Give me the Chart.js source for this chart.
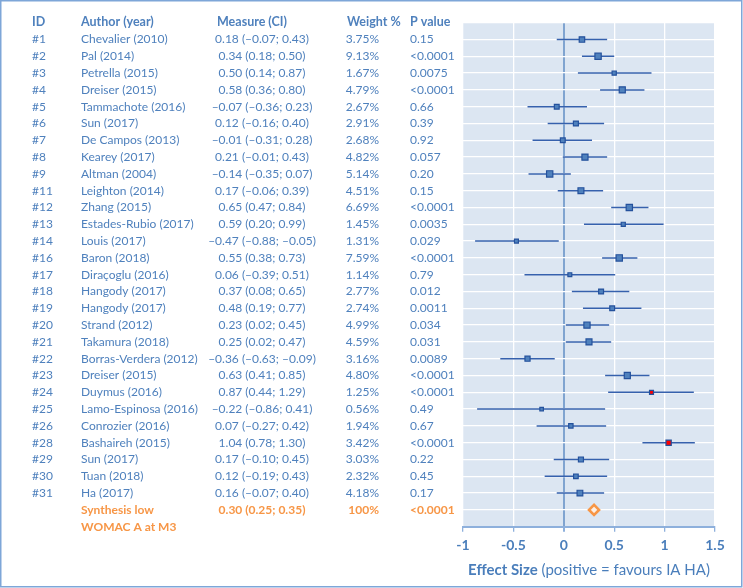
<!DOCTYPE html>
<html>
<head>
<meta charset="utf-8">
<script src="https://cdn.jsdelivr.net/npm/chart.js@4.4.0/dist/chart.umd.min.js"></script>
<style>
  body { margin: 0; background: #fff; }
  #wrap { width: 743px; height: 588px; }
</style>
</head>
<body>
<div id="wrap"><canvas id="forest" width="743" height="588"></canvas></div>
<script>
// study table
const ids = ['#1','#2','#3','#4','#5','#6','#7','#8','#9','#11','#12','#13','#14','#16',
  '#17','#18','#19','#20','#21','#22','#23','#24','#25','#26','#28','#29','#30','#31'];
const authors = ['Chevalier (2010)','Pal (2014)','Petrella (2015)','Dreiser (2015)','Tammachote (2016)',
  'Sun (2017)','De Campos (2013)','Kearey (2017)','Altman (2004)','Leighton (2014)','Zhang (2015)',
  'Estades-Rubio (2017)','Louis (2017)','Baron (2018)','Diraçoglu (2016)','Hangody (2017)',
  'Hangody (2017)','Strand (2012)','Takamura (2018)','Borras-Verdera (2012)','Dreiser (2015)',
  'Duymus (2016)','Lamo-Espinosa (2016)','Conrozier (2016)','Bashaireh (2015)','Sun (2017)',
  'Tuan (2018)','Ha (2017)'];
const effect = [0.18,0.34,0.50,0.58,-0.07,0.12,-0.01,0.21,-0.14,0.17,0.65,0.59,-0.47,0.55,
  0.06,0.37,0.48,0.23,0.25,-0.36,0.63,0.87,-0.22,0.07,1.04,0.17,0.12,0.16];
const ciLow = [-0.07,0.18,0.14,0.36,-0.36,-0.16,-0.31,-0.01,-0.35,-0.06,0.47,0.20,-0.88,0.38,
  -0.39,0.08,0.19,0.02,0.02,-0.63,0.41,0.44,-0.86,-0.27,0.78,-0.10,-0.19,-0.07];
const ciHigh = [0.43,0.50,0.87,0.80,0.23,0.40,0.28,0.43,0.07,0.39,0.84,0.99,-0.05,0.73,
  0.51,0.65,0.77,0.45,0.47,-0.09,0.85,1.29,0.41,0.42,1.30,0.45,0.43,0.40];
const weights = [3.75,9.13,1.67,4.79,2.67,2.91,2.68,4.82,5.14,4.51,6.69,1.45,1.31,7.59,
  1.14,2.77,2.74,4.99,4.59,3.16,4.80,1.25,0.56,1.94,3.42,3.03,2.32,4.18];
const pValues = ['0.15','<0.0001','0.0075','<0.0001','0.66','0.39','0.92','0.057','0.20','0.15',
  '<0.0001','0.0035','0.029','<0.0001','0.79','0.012','0.0011','0.034','0.031','0.0089',
  '<0.0001','<0.0001','0.49','0.67','<0.0001','0.22','0.45','0.17'];
const flagged = ['#24','#28'];

// pooled result
const synthEffect = 0.30;
const synthLow = 0.25;
const synthHigh = 0.35;
const synthWeight = '100%';
const synthP = '<0.0001';
const synthLabel = ['Synthesis low', 'WOMAC A at M3'];

const xTicks = [-1, -0.5, 0, 0.5, 1, 1.5];
const headers = ['ID', 'Author (year)', 'Measure (CI)', 'Weight %', 'P value'];

const BLUE_TXT = '#4f81bd';
const ORANGE = '#f79646';
const FONT = 'Lato, "Open Sans", sans-serif';

function fmt(v) {
  return (v < 0 ? '\u2013' : '') + Math.abs(v).toFixed(2);
}

// one row per study, synthesis after them
const markerData = effect.map((v, i) => ({ x: v, y: i + 1 }));
const synthRow = ids.length + 1;

const barData = [];
ciLow.forEach((lo, i) => {
  barData.push({ x: lo, y: i + 1 }, { x: ciHigh[i], y: i + 1 }, { x: lo, y: null });
});

function squareRadius(w) {
  const side = Math.min(4.2 + 0.6 * w, 7.3);
  return (side - 1) / Math.SQRT2;
}

const tablePlugin = {
  id: 'table',
  beforeDraw(chart) {
    const { ctx, chartArea: a } = chart;
    ctx.save();
    ctx.fillStyle = '#dce6f2';
    ctx.fillRect(a.left, a.top, a.right - a.left, a.bottom - a.top);
    ctx.restore();
  },
  afterDraw(chart) {
    const { ctx, chartArea: a } = chart;
    const y = chart.scales.y;
    ctx.save();
    ctx.textBaseline = 'middle';

    // header
    ctx.fillStyle = BLUE_TXT;
    ctx.font = 'bold 12.5px ' + FONT;
    const hy = y.getPixelForValue(0) - 1;
    ctx.textAlign = 'left';
    ctx.fillText(headers[0], 32, hy);
    ctx.fillText(headers[1], 81, hy);
    ctx.fillText(headers[2], 217, hy);
    ctx.fillText(headers[3], 347, hy);
    ctx.fillText(headers[4], 410, hy);

    // studies
    ctx.font = '12px ' + FONT;
    ids.forEach((id, i) => {
      const ry = y.getPixelForValue(i + 1);
      ctx.textAlign = 'left';
      ctx.fillText(id, 32, ry);
      ctx.fillText(authors[i], 81, ry);
      ctx.fillText(pValues[i], 410, ry);
      ctx.textAlign = 'center';
      ctx.fillText(fmt(effect[i]) + ' (' + fmt(ciLow[i]) + '; ' + fmt(ciHigh[i]) + ')', 262, ry);
      ctx.textAlign = 'right';
      ctx.fillText(weights[i].toFixed(2) + '%', 379, ry);
    });

    // synthesis
    ctx.fillStyle = ORANGE;
    ctx.font = 'bold 12px ' + FONT;
    const sy = y.getPixelForValue(synthRow);
    ctx.textAlign = 'left';
    ctx.fillText(synthLabel[0], 81, sy);
    ctx.fillText(synthLabel[1], 81, y.getPixelForValue(synthRow + 1));
    ctx.fillText(synthP, 410, sy);
    ctx.textAlign = 'center';
    ctx.fillText(fmt(synthEffect) + ' (' + fmt(synthLow) + '; ' + fmt(synthHigh) + ')', 262, sy);
    ctx.textAlign = 'right';
    ctx.fillText(synthWeight, 379, sy);

    // axis title, bold part + normal part
    const t1 = 'Effect Size';
    const t2 = ' (positive = favours IA HA)';
    ctx.fillStyle = '#4a7ebb';
    ctx.font = 'bold 15px ' + FONT;
    const w1 = ctx.measureText(t1).width;
    ctx.font = '15px ' + FONT;
    const w2 = ctx.measureText(t2).width;
    let tx = (a.left + a.right) / 2 - (w1 + w2) / 2;
    ctx.textAlign = 'left';
    ctx.font = 'bold 15px ' + FONT;
    ctx.fillText(t1, tx, 570);
    ctx.font = '15px ' + FONT;
    ctx.fillText(t2, tx + w1, 570);

    // frame
    ctx.strokeStyle = '#7ea6d8';
    ctx.lineWidth = 1.5;
    ctx.strokeRect(0.75, 0.75, 741, 586);
    ctx.restore();
  }
};

new Chart(document.getElementById('forest'), {
  type: 'scatter',
  data: {
    datasets: [
      {
        label: 'studies',
        data: markerData,
        pointStyle: 'rect',
        pointRadius: ctx => squareRadius(weights[ctx.dataIndex]),
        backgroundColor: ctx => flagged.includes(ids[ctx.dataIndex]) ? '#ff0000' : '#4f81bd',
        borderColor: '#24519c',
        borderWidth: 1.2,
        order: 1
      },
      {
        label: 'synthesis',
        data: [{ x: synthEffect, y: synthRow }],
        pointStyle: 'rectRot',
        pointRadius: 5,
        backgroundColor: '#fdf0e6',
        borderColor: ORANGE,
        borderWidth: 2.6,
        order: 0
      },
      {
        label: 'ci',
        data: barData,
        showLine: true,
        spanGaps: false,
        pointRadius: 0,
        borderColor: '#3661ad',
        borderWidth: 1.5,
        order: 2
      }
    ]
  },
  options: {
    responsive: false,
    animation: false,
    layout: { padding: { left: 463, right: 28, top: 22.7, bottom: 0 } },
    plugins: { legend: { display: false }, tooltip: { enabled: false } },
    scales: {
      x: {
        type: 'linear',
        min: -1,
        max: 1.5,
        afterBuildTicks: s => { s.ticks = xTicks.map(v => ({ value: v })); },
        afterFit: s => { s.height = 588 - 526.7; },
        grid: {
          color: c => c.tick && c.tick.value === 0 ? 'rgba(79,129,189,0.65)' : '#ffffff',
          lineWidth: c => c.tick && c.tick.value === 0 ? 2 : 1.3,
          tickColor: '#8eb0dc',
          tickLength: 5
        },
        border: { color: '#8eb0dc', width: 2 },
        ticks: {
          color: '#4a7ebb',
          font: { family: FONT, size: 14, weight: 'bold' },
          padding: 5,
          callback: v => String(v)
        }
      },
      y: {
        type: 'linear',
        min: 0,
        max: 30,
        reverse: true,
        afterFit: s => { s.width = 0; },
        afterBuildTicks: s => {
          const t = [];
          for (let i = 0; i <= 30; i++) t.push({ value: i });
          s.ticks = t;
        },
        grid: { color: '#ffffff', lineWidth: 1.3, drawTicks: false },
        border: { display: false },
        ticks: { display: false }
      }
    }
  },
  plugins: [tablePlugin]
});
</script>
</body>
</html>
